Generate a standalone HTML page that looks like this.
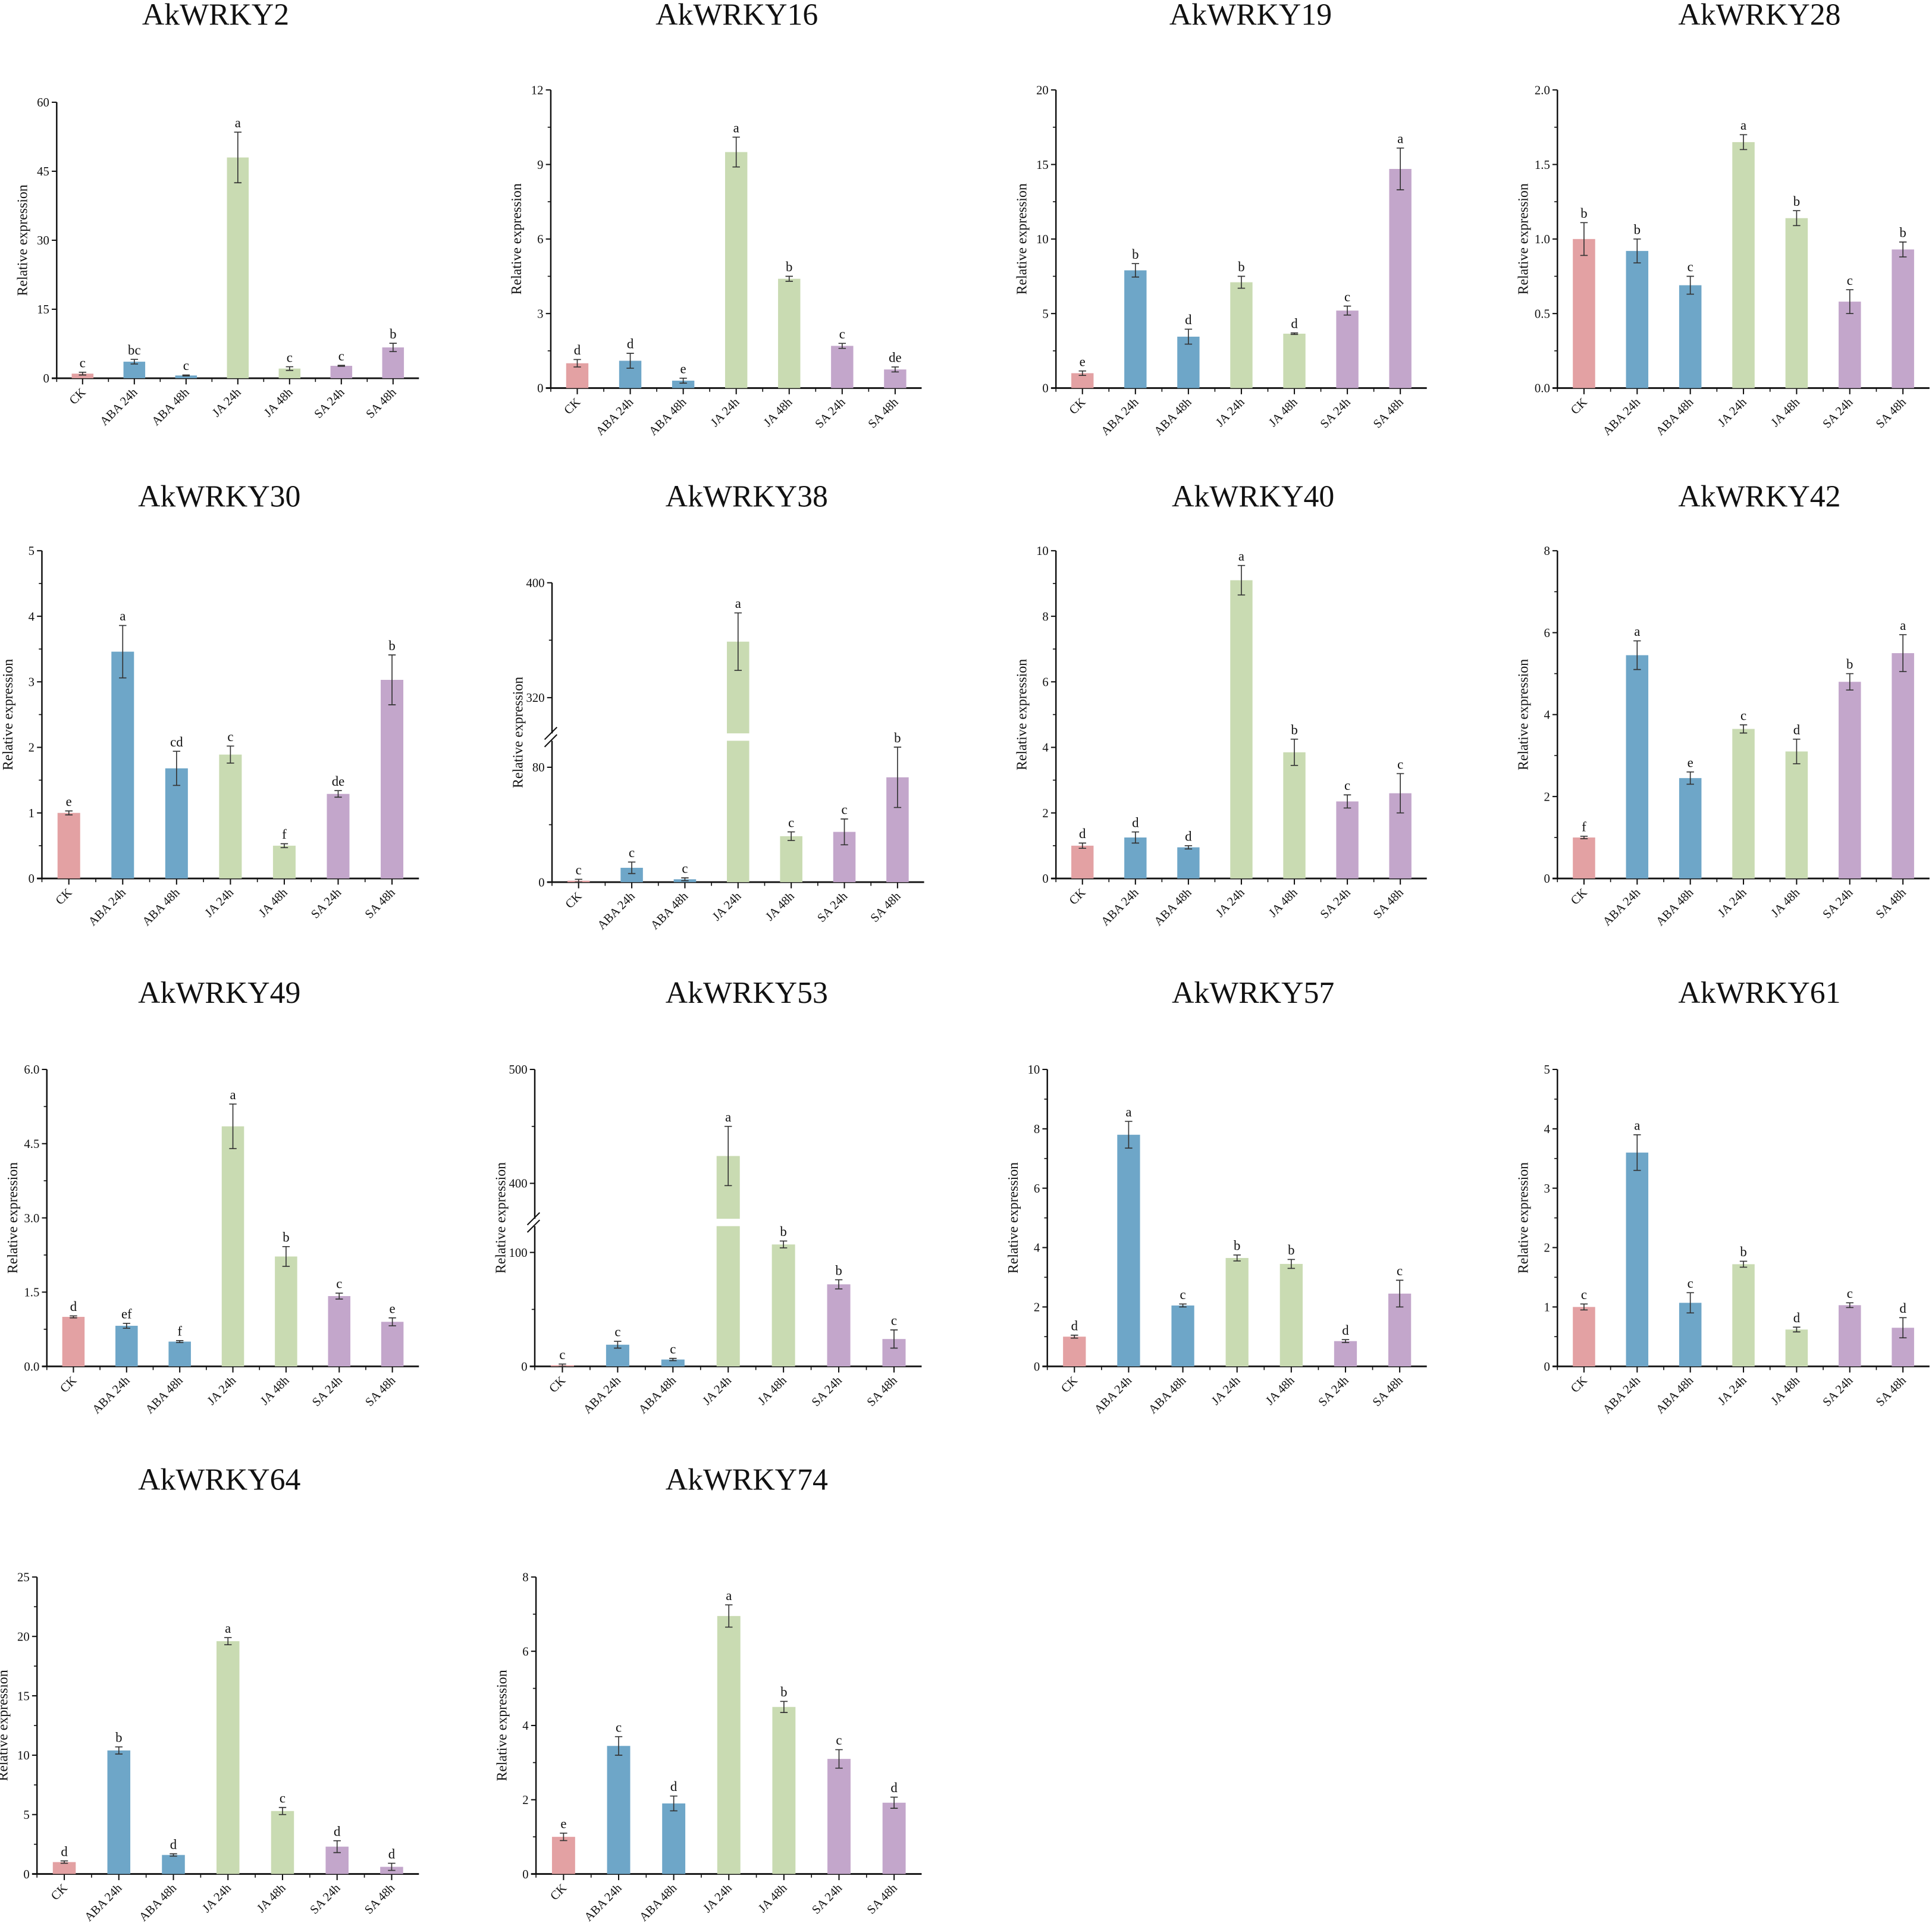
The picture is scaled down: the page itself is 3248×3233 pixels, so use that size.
<!DOCTYPE html>
<html><head><meta charset="utf-8"><style>
html,body{margin:0;padding:0;background:#fff;}
svg{display:block;}
text{font-family:"Liberation Serif",serif;fill:#111;}
</style></head><body>
<svg id="fig" width="3248" height="3233" viewBox="0 0 1568 1560.8" xmlns="http://www.w3.org/2000/svg"></svg>
<script>
const categories = ["CK","ABA 24h","ABA 48h","JA 24h","JA 48h","SA 24h","SA 48h"];
const colors = ["#e3a1a3","#6ea6c8","#c9dbb2","#c3a6cb"];
const colorIdx = [0,1,1,2,2,3,3];
const geneNames = ["AkWRKY2","AkWRKY16","AkWRKY19","AkWRKY28","AkWRKY30","AkWRKY38","AkWRKY40","AkWRKY42","AkWRKY49","AkWRKY53","AkWRKY57","AkWRKY61","AkWRKY64","AkWRKY74"];
const means = [
 [1,3.6,0.6,48,2.1,2.7,6.7],
 [1.0,1.1,0.3,9.5,4.4,1.7,0.75],
 [1.0,7.9,3.45,7.1,3.65,5.2,14.7],
 [1.0,0.92,0.69,1.65,1.14,0.58,0.93],
 [1.0,3.46,1.68,1.89,0.5,1.29,3.03],
 [1,10,2,359,32,35,73],
 [1.0,1.25,0.95,9.1,3.85,2.35,2.6],
 [1.0,5.45,2.45,3.65,3.1,4.8,5.5],
 [1.0,0.82,0.5,4.85,2.22,1.42,0.9],
 [1,19,6,424,107,72,24],
 [1.0,7.8,2.05,3.65,3.45,0.85,2.45],
 [1.0,3.6,1.07,1.72,0.62,1.03,0.65],
 [1.0,10.4,1.6,19.6,5.3,2.3,0.6],
 [1.0,3.45,1.9,6.95,4.5,3.1,1.92]
];
const errors = [
 [0.3,0.5,0.1,5.5,0.4,0.1,0.9],
 [0.15,0.3,0.1,0.6,0.1,0.1,0.1],
 [0.15,0.45,0.5,0.4,0.05,0.3,1.4],
 [0.11,0.08,0.06,0.05,0.05,0.08,0.05],
 [0.03,0.4,0.26,0.13,0.03,0.05,0.38],
 [1,4,1,20,3,9,21],
 [0.08,0.17,0.05,0.45,0.4,0.2,0.6],
 [0.03,0.35,0.15,0.1,0.3,0.2,0.45],
 [0.02,0.05,0.02,0.45,0.2,0.06,0.08],
 [1,3,1,26,3,4,8],
 [0.05,0.45,0.05,0.1,0.15,0.05,0.45],
 [0.05,0.3,0.17,0.05,0.04,0.04,0.17],
 [0.1,0.3,0.1,0.3,0.3,0.5,0.3],
 [0.1,0.25,0.2,0.3,0.15,0.25,0.15]
];
const sigLetters = [
 ["c","bc","c","a","c","c","b"],
 ["d","d","e","a","b","c","de"],
 ["e","b","d","b","d","c","a"],
 ["b","b","c","a","b","c","b"],
 ["e","a","cd","c","f","de","b"],
 ["c","c","c","a","c","c","b"],
 ["d","d","d","a","b","c","c"],
 ["f","a","e","c","d","b","a"],
 ["d","ef","f","a","b","c","e"],
 ["c","c","c","a","b","b","c"],
 ["d","a","c","b","b","d","c"],
 ["c","a","c","b","d","c","d"],
 ["d","b","d","a","c","d","d"],
 ["e","c","d","a","b","c","d"]
];
const yTicks = [
 ["0","15","30","45","60"],
 ["0","3","6","9","12"],
 ["0","5","10","15","20"],
 ["0.0","0.5","1.0","1.5","2.0"],
 ["0","1","2","3","4","5"],
 ["0","80","320","400"],
 ["0","2","4","6","8","10"],
 ["0","2","4","6","8"],
 ["0.0","1.5","3.0","4.5","6.0"],
 ["0","100","400","500"],
 ["0","2","4","6","8","10"],
 ["0","1","2","3","4","5"],
 ["0","5","10","15","20","25"],
 ["0","2","4","6","8"]
];
// layout (display units)
const layout = [
 {ax:46,top:83,zero:307,end:340,tx:175,ty:20},
 {ax:447,top:73,zero:315,end:748,tx:598,ty:20},
 {ax:857,top:73,zero:315,end:1158,tx:1015,ty:20},
 {ax:1264,top:73,zero:315,end:1566,tx:1428,ty:20},
 {ax:34,top:447,zero:713,end:340,tx:178,ty:411},
 {ax:448,top:473,zero:716,end:750,tx:606,ty:411},
 {ax:857,top:447,zero:713,end:1158,tx:1017,ty:411},
 {ax:1264,top:447,zero:713,end:1566,tx:1428,ty:411},
 {ax:38,top:868,zero:1109,end:340,tx:178,ty:814},
 {ax:434,top:868,zero:1109,end:748,tx:606,ty:814},
 {ax:850,top:868,zero:1109,end:1158,tx:1017,ty:814},
 {ax:1264,top:868,zero:1109,end:1566,tx:1428,ty:814},
 {ax:30,top:1280,zero:1521,end:340,tx:178,ty:1209},
 {ax:435,top:1280,zero:1521,end:748,tx:606,ty:1209}
];
const NS="http://www.w3.org/2000/svg";
const svg=document.getElementById('fig');
function mk(tag,attrs,parent){const e=document.createElementNS(NS,tag);for(const k in attrs)e.setAttribute(k,attrs[k]);(parent||svg).appendChild(e);return e;}

geneNames.forEach((name,p)=>{
  const L=layout[p];
  const g=mk('g',{});
  
  
  const t=mk('text',{x:L.tx,y:L.ty,'font-size':25,'text-anchor':'middle'},g);
  t.textContent=name;
  
  
  const ticks=yTicks[p].map(Number);
  const isBreak = ticks.length===4 && ticks[2]>ticks[1]*2;
  let yScale, segs;
  if(isBreak){
    const lowMax=ticks[1]*1.22, upMin=ticks[2]-(ticks[3]-ticks[2])*0.3;
    const gap=8;
    const span=(lowMax)+(ticks[3]-upMin);
    const k=(L.zero-L.top-gap)/span;
    const brk=L.zero-lowMax*k;
    yScale=v=> v<=lowMax ? L.zero-v*k : brk-gap-(v-upMin)*k;
    segs={brk:brk,gap:gap,lowMax:lowMax,upMin:upMin};
  } else {
    const max=ticks[ticks.length-1];
    yScale=v=>L.zero-(v/max)*(L.zero-L.top);
  }
  // axes
  if(isBreak){
    const ya=mk('path',{d:`M${L.ax},${L.zero}V${segs.brk-1}M${L.ax},${segs.brk-segs.gap+1}V${L.top}`,stroke:'#111','stroke-width':1.2,fill:'none'},g);
    
    const bm=segs.brk-segs.gap/2;
    mk('path',{d:`M${L.ax-6},${bm+2}L${L.ax+4},${bm-8}M${L.ax-6},${bm+8}L${L.ax+4},${bm-2}`,stroke:'#111','stroke-width':1,fill:'none'},g);
  } else {
    const ya=mk('line',{x1:L.ax,y1:L.zero,x2:L.ax,y2:L.top,stroke:'#111','stroke-width':1.2},g);
    
  }
  const xa=mk('line',{x1:L.ax-4,y1:L.zero,x2:L.end,y2:L.zero,stroke:'#111','stroke-width':1.4},g);
  
  // y ticks
  ticks.forEach((v,i)=>{
    const y=yScale(v);
    mk('line',{x1:L.ax-4,y1:y,x2:L.ax,y2:y,stroke:'#111','stroke-width':1},g);
    const tl=mk('text',{x:L.ax-6,y:y+3.5,'font-size':10,'text-anchor':'end'},g);
    tl.textContent=yTicks[p][i];
    
    if(i<ticks.length-1 && p!==0){
      const nv=ticks[i+1];
      if(!isBreak || i!==1){
        const my=yScale((v+nv)/2);
        mk('line',{x1:L.ax-2.5,y1:my,x2:L.ax,y2:my,stroke:'#111','stroke-width':0.8},g);
      }
    }
  });
  const yt=mk('text',{x:0,y:0,'font-size':11.5,'text-anchor':'middle',transform:`translate(${L.ax-24},${(L.top+L.zero)/2}) rotate(-90)`},g);
  yt.textContent='Relative expression';
  
  // bars
  const band=(L.end-L.ax)/7, bw=band*0.42;
  categories.forEach((c,i)=>{
    const cx=L.ax+band*(i+0.5);
    const v=means[p][i], e=errors[p][i];
    mk('line',{x1:L.ax+band*i,y1:L.zero,x2:L.ax+band*i,y2:L.zero+3,stroke:'#111','stroke-width':0.8},g);
    mk('line',{x1:cx,y1:L.zero,x2:cx,y2:L.zero+5,stroke:'#111','stroke-width':1},g);
    const yv=yScale(v);
    const bar=mk('rect',{x:cx-bw/2,y:yv,width:bw,height:L.zero-yv,fill:colors[colorIdx[i]]},g);
    
    
    if(isBreak && v>segs.lowMax){
      mk('rect',{x:cx-bw/2-1,y:segs.brk-segs.gap+1,width:bw+2,height:segs.gap-2,fill:'#fff'},g);
    }
    const yt1=yScale(v+e), yb1=yScale(Math.max(v-e,0));
    mk('path',{d:`M${cx},${yt1}V${yb1}M${cx-3},${yt1}H${cx+3}M${cx-3},${yb1}H${cx+3}`,stroke:'#333','stroke-width':0.8,fill:'none'},g);
    const sl=mk('text',{x:cx,y:yt1-4,'font-size':11,'text-anchor':'middle'},g);
    sl.textContent=sigLetters[p][i];
    
    const xl=mk('text',{x:0,y:0,'font-size':10,'text-anchor':'end',transform:`translate(${cx+3},${L.zero+12}) rotate(-45)`},g);
    xl.textContent=c;
    
  });
});
</script>
</body></html>
